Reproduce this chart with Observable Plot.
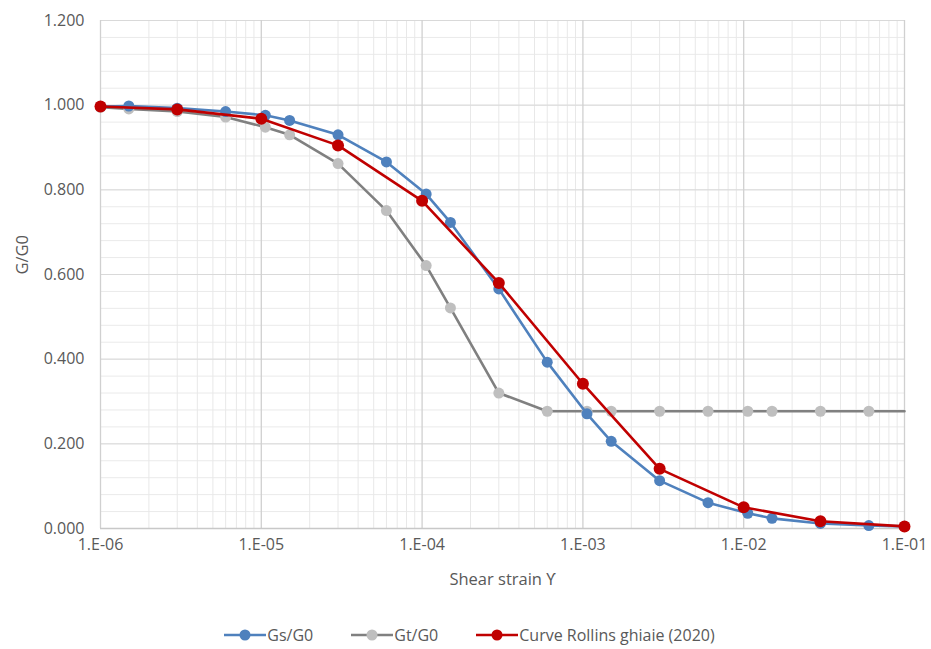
<!DOCTYPE html>
<html>
<head>
<meta charset="utf-8">
<script src="https://cdn.jsdelivr.net/npm/d3@7"></script>
<script src="https://cdn.jsdelivr.net/npm/@observablehq/plot@0.6"></script>
<style>
  html, body { margin: 0; padding: 0; background: #fff; }
  body { width: 931px; height: 649px; overflow: hidden; font-family: "Open Sans", sans-serif; }
  #legend { position: absolute; left: 0; top: 625px; width: 931px; display: flex; justify-content: center; gap: 38px; font-size: 16px; color: #595959; padding-left: 8px; box-sizing: border-box; line-height: 20px; }
  #legend .item { display: flex; align-items: center; gap: 1px; }
</style>
</head>
<body>
<div id="chart"></div>
<div id="legend"></div>
<script>
// ---- data ----
const gsStrain = [1e-6, 1.5e-6, 3e-6, 6e-6, 1.06e-5, 1.5e-5, 3e-5, 6e-5, 1.06e-4, 1.5e-4, 3e-4, 6e-4, 1.06e-3, 1.5e-3, 3e-3, 6e-3, 1.06e-2, 1.5e-2, 3e-2, 6e-2, 1e-1];
const gsValues = [0.997, 0.998, 0.993, 0.985, 0.976, 0.964, 0.930, 0.866, 0.790, 0.723, 0.566, 0.393, 0.271, 0.206, 0.113, 0.061, 0.036, 0.024, 0.012, 0.007, 0.005];

const gtStrain = [1e-6, 1.5e-6, 3e-6, 6e-6, 1.06e-5, 1.5e-5, 3e-5, 6e-5, 1.06e-4, 1.5e-4, 3e-4, 6e-4, 1.06e-3, 1.5e-3, 3e-3, 6e-3, 1.06e-2, 1.5e-2, 3e-2, 6e-2, 1e-1];
const gtValues = [0.995, 0.991, 0.985, 0.972, 0.948, 0.930, 0.862, 0.751, 0.621, 0.521, 0.320, 0.277, 0.277, 0.277, 0.277, 0.277, 0.277, 0.277, 0.277, 0.277, 0.277];
const gtMarker = [true, true, true, true, true, true, true, true, true, true, true, true, true, true, true, true, true, true, true, true, false];

const rollStrain = [1e-6, 3e-6, 1e-5, 3e-5, 1e-4, 3e-4, 1e-3, 3e-3, 1e-2, 3e-2, 1e-1];
const rollValues = [0.997, 0.990, 0.968, 0.905, 0.774, 0.580, 0.342, 0.141, 0.050, 0.017, 0.005];

const seriesNames = ["Gs/G0", "Gt/G0", "Curve Rollins ghiaie (2020)"];
const xTicks = [1e-6, 1e-5, 1e-4, 1e-3, 1e-2, 1e-1];
const xTickLabels = ["1.E-06", "1.E-05", "1.E-04", "1.E-03", "1.E-02", "1.E-01"];
const yTicks = [0, 0.2, 0.4, 0.6, 0.8, 1.0, 1.2];
const yTickLabels = ["0.000", "0.200", "0.400", "0.600", "0.800", "1.000", "1.200"];
const yMinor = d3.range(0, 1.2001, 0.04);
const xMinor = [];
for (let e = -6; e < -1; e++) for (let m = 2; m <= 9; m++) xMinor.push(m * Math.pow(10, e));

// ---- styles ----
const C_BLUE = "#4f81bd", C_GRAY_LINE = "#808080", C_GRAY_DOT = "#bfbfbf", C_RED = "#c00000";

const gs = gsStrain.map((x, i) => ({x, y: gsValues[i]}));
const gt = gtStrain.map((x, i) => ({x, y: gtValues[i], m: gtMarker[i]}));
const ro = rollStrain.map((x, i) => ({x, y: rollValues[i]}));

const chart = Plot.plot({
  width: 931,
  height: 610,
  marginLeft: 100,
  marginRight: 27,
  marginTop: 20,
  marginBottom: 82,
  style: {fontFamily: "Open Sans, sans-serif", fontSize: "16px", color: "#595959", background: "#fff"},
  x: {type: "log", domain: [1e-6, 1e-1], ticks: xTicks, tickFormat: (d) => xTickLabels[xTicks.indexOf(d)], tickSize: 0, tickPadding: 10, label: null},
  y: {domain: [0, 1.2], ticks: yTicks, tickFormat: d => yTickLabels[yTicks.findIndex(t => Math.abs(t - d) < 1e-9)], tickSize: 0, tickPadding: 16, label: null},
  marks: [
    Plot.ruleY(yMinor, {stroke: "#eaeaea", strokeWidth: 1}),
    Plot.ruleX(xMinor, {stroke: "#e8e8e8", strokeWidth: 1}),
    Plot.ruleY(yTicks, {stroke: "#d9d9d9", strokeWidth: 1}),
    Plot.ruleX(xTicks, {stroke: "#d0d0d0", strokeWidth: 1.3}),
    Plot.ruleY([0], {stroke: "#c8c8c8", strokeWidth: 1.5}),
    Plot.line(gt, {x: "x", y: "y", stroke: C_GRAY_LINE, strokeWidth: 2.6}),
    Plot.dot(gt.filter(d => d.m), {x: "x", y: "y", r: 5.5, fill: C_GRAY_DOT}),
    Plot.line(gs, {x: "x", y: "y", stroke: C_BLUE, strokeWidth: 2.6}),
    Plot.dot(gs, {x: "x", y: "y", r: 5.5, fill: C_BLUE}),
    Plot.line(ro, {x: "x", y: "y", stroke: C_RED, strokeWidth: 2.6}),
    Plot.dot(ro, {x: "x", y: "y", r: 6, fill: C_RED}),
    Plot.text(["Shear strain ϒ"], {frameAnchor: "bottom", dy: 56, fill: "#595959", fontSize: 16.5}),
    Plot.text(["G/G0"], {frameAnchor: "left", dx: -78, rotate: -90, fill: "#595959", fontSize: 16.5})
  ]
});
document.getElementById("chart").appendChild(chart);

// ---- legend ----
const colorsLine = [C_BLUE, C_GRAY_LINE, C_RED];
const colorsDot = [C_BLUE, C_GRAY_DOT, C_RED];
const legend = document.getElementById("legend");
seriesNames.forEach((name, i) => {
  const item = document.createElement("div");
  item.className = "item";
  item.innerHTML = `<svg width="42" height="14"><line x1="0" y1="7" x2="42" y2="7" stroke="${colorsLine[i]}" stroke-width="2.6"/><circle cx="21" cy="7" r="5.5" fill="${colorsDot[i]}"/></svg><span>${name}</span>`;
  legend.appendChild(item);
});
</script>
</body>
</html>
